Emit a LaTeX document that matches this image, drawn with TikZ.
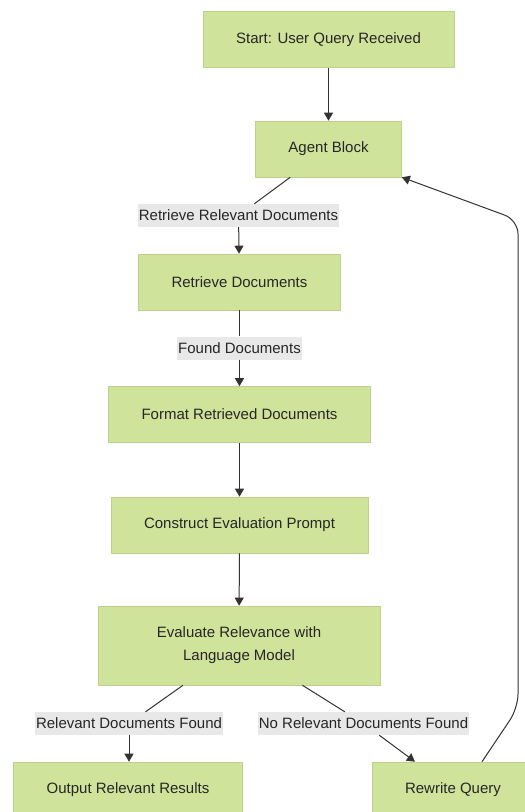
\documentclass[tikz,border=0pt]{standalone}
\usepackage{fontspec}
\setmainfont{Liberation Sans}
\usetikzlibrary{arrows.meta}
\definecolor{boxgreen}{HTML}{D0E39B}
\definecolor{boxline}{HTML}{BCD18C}
\definecolor{lblgray}{HTML}{E8E8E8}
\definecolor{inkgray}{HTML}{333333}
\begin{document}
\begin{tikzpicture}[x=1bp,y=-1bp,
	stepbox/.style={rectangle, fill=boxgreen, draw=boxline, line width=0.6bp, inner xsep=33bp, minimum height=56bp, text=black!85, font=\fontsize{15bp}{23bp}\selectfont},
	lbl/.style={rectangle, fill=lblgray, inner xsep=1bp, inner ysep=1bp, minimum height=23bp, text=black!85, font=\fontsize{15bp}{18bp}\selectfont},
	flow/.style={draw=inkgray, line width=1bp, -{Triangle[length=8bp,width=9bp]}},
	plain/.style={draw=inkgray, line width=1bp}]
	\useasboundingbox (0,0) rectangle (525,812);
	\node [stepbox] (start) at (328.5,39.5) {Start: User Query Received};
	\node [stepbox] (agent) at (328.5,149) {Agent Block};
	\node [lbl] (lblretrieve) at (238.5,215.5) {Retrieve Relevant Documents};
	\node [stepbox] (retrieve) at (239.5,282) {Retrieve Documents};
	\node [lbl] (lblfound) at (239.5,348) {Found Documents};
	\node [stepbox] (format) at (239.5,414.5) {Format Retrieved Documents};
	\node [stepbox] (construct) at (239.5,525) {Construct Evaluation Prompt};
	\node [stepbox, align=center, minimum width=282bp, minimum height=79bp] (evaluate) at (239,645.5) {Evaluate Relevance with\\Language Model};
	\node [lbl] (lblyes) at (129,723.5) {Relevant Documents Found};
	\node [lbl] (lblno) at (363.5,723.5) {No Relevant Documents Found};
	\node [stepbox] (output) at (128,790) {Output Relevant Results};
	\node [stepbox] (rewrite) at (453,790) {Rewrite Query};
	\coordinate (loopbot) at (518,708);
	\coordinate (looptop) at (518,220);
	\draw [flow] (start) -- (agent);
	\draw [plain] (agent) -- (lblretrieve);
	\draw [flow] (lblretrieve) -- (retrieve);
	\draw [plain] (retrieve) -- (lblfound);
	\draw [flow] (lblfound) -- (format);
	\draw [flow] (format) -- (construct);
	\draw [flow] (construct) -- (evaluate);
	\draw [plain] (evaluate) -- (lblyes);
	\draw [flow] (lblyes) -- (lblyes |- output.north);
	\draw [plain] (evaluate) -- (lblno);
	\draw [flow] (lblno) -- (rewrite);
	% loop back to the agent
	\draw [flow, rounded corners=14bp] ([xshift=29bp]rewrite.north) -- (loopbot) -- (looptop) -- (agent.south east);
\end{tikzpicture}
\end{document}
